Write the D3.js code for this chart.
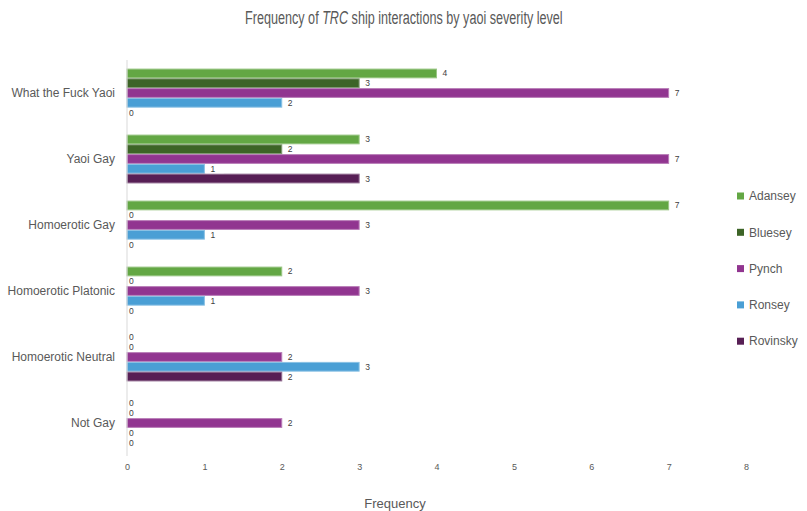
<!DOCTYPE html>
<html>
<head>
<meta charset="utf-8">
<script src="https://cdn.jsdelivr.net/npm/d3@7"></script>
<style>
  body { margin: 0; background: #fff; }
  svg { display: block; font-family: "Liberation Sans", Arial, sans-serif; }
</style>
</head>
<body>
<svg id="chart" width="807" height="511"></svg>
<script>
// categories top to bottom
const categories = ["What the Fuck Yaoi", "Yaoi Gay", "Homoerotic Gay", "Homoerotic Platonic", "Homoerotic Neutral", "Not Gay"];
const seriesNames = ["Adansey", "Bluesey", "Pynch", "Ronsey", "Rovinsky"];
const seriesColors = ["#63a744", "#3d6427", "#913590", "#4a9fd5", "#571f55"];

const adansey  = [4, 3, 7, 2, 0, 0];
const bluesey  = [3, 2, 0, 0, 0, 0];
const pynch    = [7, 7, 3, 3, 2, 2];
const ronsey   = [2, 1, 1, 1, 3, 0];
const rovinsky = [0, 3, 0, 0, 2, 0];
const seriesValues = [adansey, bluesey, pynch, ronsey, rovinsky];

const xTicks = [0, 1, 2, 3, 4, 5, 6, 7, 8];

const svg = d3.select("#chart");
const m = { top: 60, left: 127, right: 746, bottom: 456 };

const x = d3.scaleLinear().domain([0, 8]).range([m.left, m.right]);
const y0 = d3.scaleBand().domain(categories).range([m.top, m.bottom]).paddingInner(0.26).paddingOuter(0.13);
const y1 = d3.scaleBand().domain(seriesNames).range([0, y0.bandwidth()]);

// title - squeezed horizontally to mimic the narrow font of the original
const titleG = svg.append("g");
const title = titleG.append("text")
  .attr("x", 0).attr("y", 0)
  .attr("fill", "#595959")
  .attr("font-size", 18);
title.append("tspan").text("Frequency of ");
title.append("tspan").attr("font-style", "italic").text("TRC");
title.append("tspan").text(" ship interactions by yaoi severity level");
const tw = title.node().getComputedTextLength();
const sx = 318 / tw;
titleG.attr("transform", `translate(${404 - 159},24) scale(${sx},1)`);

// bars
const rows = [];
categories.forEach((c, i) => {
  seriesNames.forEach((s, j) => {
    rows.push({ cat: c, series: s, value: seriesValues[j][i], color: seriesColors[j] });
  });
});

const g = svg.append("g");
g.selectAll("rect.bar")
  .data(rows.filter(d => d.value > 0))
  .join("rect")
  .attr("class", "bar")
  .attr("x", x(0))
  .attr("y", d => y0(d.cat) + y1(d.series) + 0.5)
  .attr("width", d => x(d.value) - x(0))
  .attr("height", y1.bandwidth() - 1)
  .attr("fill", d => d.color)
  .attr("stroke", d => d3.interpolateRgb(d.color, "#fff")(0.35))
  .attr("stroke-width", 1);

// value labels with white box
const lab = g.selectAll("g.lab")
  .data(rows)
  .join("g")
  .attr("class", "lab")
  .attr("transform", d => `translate(${x(d.value)},${y0(d.cat) + y1(d.series) + y1.bandwidth() / 2})`);
lab.filter(d => d.value > 0).append("rect")
  .attr("x", 1.5).attr("y", -y1.bandwidth() / 2 + 0.5)
  .attr("width", 18).attr("height", y1.bandwidth() - 1)
  .attr("fill", "#fff");
lab.append("text")
  .attr("x", d => d.value > 0 ? 6 : 2)
  .attr("dy", "0.35em")
  .attr("font-size", 8.5)
  .attr("fill", "#404040")
  .text(d => d.value);

// y axis line and category labels
svg.append("line")
  .attr("x1", x(0)).attr("x2", x(0))
  .attr("y1", m.top).attr("y2", m.bottom)
  .attr("stroke", "#d9d9d9").attr("stroke-width", 1);

svg.append("g").selectAll("text")
  .data(categories)
  .join("text")
  .attr("x", 115)
  .attr("y", d => y0(d) + y0.bandwidth() / 2)
  .attr("dy", "0.35em")
  .attr("text-anchor", "end")
  .attr("font-size", 12)
  .attr("fill", "#595959")
  .text(d => d);

// x axis tick labels
const xAxis = svg.append("g")
  .attr("transform", `translate(0,${m.bottom})`)
  .call(d3.axisBottom(x).tickValues(xTicks).tickSize(0).tickPadding(8).tickFormat(d3.format("d")));
xAxis.select(".domain").remove();
xAxis.selectAll("text")
  .attr("font-size", 9)
  .attr("font-family", "Liberation Sans, Arial, sans-serif")
  .attr("fill", "#595959");

svg.append("text")
  .attr("x", 395).attr("y", 508)
  .attr("text-anchor", "middle")
  .attr("font-size", 13)
  .attr("fill", "#595959")
  .text("Frequency");

// legend
const leg = svg.append("g").selectAll("g")
  .data(seriesNames)
  .join("g")
  .attr("transform", (d, i) => `translate(737,${196 + i * 36.3})`);
leg.append("rect")
  .attr("x", 0).attr("y", -3.5)
  .attr("width", 7).attr("height", 7)
  .attr("fill", (d, i) => seriesColors[i]);
leg.append("text")
  .attr("x", 12)
  .attr("dy", "0.35em")
  .attr("font-size", 12)
  .attr("fill", "#595959")
  .text(d => d);
</script>
</body>
</html>
